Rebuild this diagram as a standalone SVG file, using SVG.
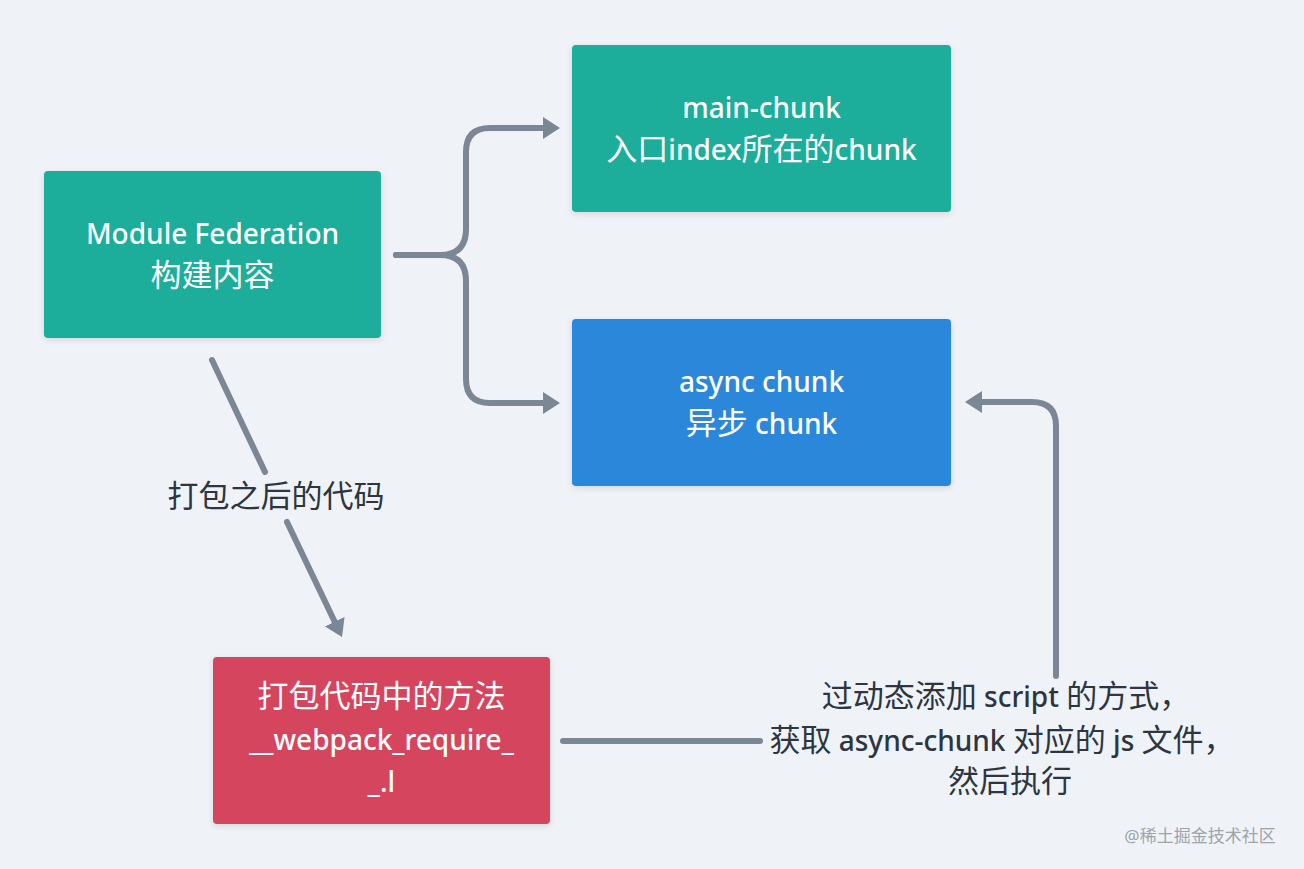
<svg xmlns="http://www.w3.org/2000/svg" width="1304" height="869" viewBox="0 0 1304 869">
<style>
.t{font-family:"Noto Sans","Noto Sans CJK SC",sans-serif;font-size:28px;font-weight:500;fill:#ffffff;text-anchor:middle}
.l{font-family:"Noto Sans","Noto Sans CJK SC",sans-serif;font-size:28px;font-weight:500;fill:#2c3540;text-anchor:middle}
.z{font-family:"Noto Sans CJK SC",sans-serif;font-size:31px;font-weight:400}
.c{fill:none;stroke:#7b8795;stroke-width:6;stroke-linecap:round;stroke-linejoin:round}
</style>
<defs>
<filter id="sh" x="-10%" y="-10%" width="120%" height="130%">
<feDropShadow dx="0" dy="2" stdDeviation="3" flood-color="#000" flood-opacity="0.12"/>
</filter>
<marker id="ah" viewBox="0 0 17 22" refX="7" refY="11" markerWidth="17" markerHeight="22" orient="auto" markerUnits="userSpaceOnUse">
<path d="M0,0 L17,11 L0,22 Z" fill="#7b8795"/>
</marker>
</defs>
<rect width="1304" height="869" fill="#eff3f8"/>
<g id="connectors">
<path class="c" d="M396,255 H440 Q466,255 466,229 V152 Q466,128 490,128 H550" marker-end="url(#ah)"/>
<path class="c" d="M396,255 H440 Q466,255 466,281 V379 Q466,403 490,403 H550" marker-end="url(#ah)"/>
<path class="c" d="M212,360 L265,472"/>
<path class="c" d="M287,522 L337.7,628" marker-end="url(#ah)"/>
<path class="c" d="M563,741 H760"/>
<path class="c" d="M1056,676 V426 Q1056,402 1032,402 H975" marker-end="url(#ah)"/>
</g>
<g id="node-mf">
<rect x="44" y="171" width="337" height="167" rx="4" fill="#1aad9b" filter="url(#sh)"/>
<text class="t" x="212.5" y="244">Module Federation</text>
<text class="t" x="212.5" y="286"><tspan class="z">构建内容</tspan></text>
</g>
<g id="node-main">
<rect x="572" y="45" width="379" height="167" rx="4" fill="#1aad9b" filter="url(#sh)"/>
<text class="t" x="761.5" y="118">main-chunk</text>
<text class="t" x="761.5" y="160"><tspan class="z">入口</tspan>index<tspan class="z">所在的</tspan>chunk</text>
</g>
<g id="node-async">
<rect x="572" y="319" width="379" height="167" rx="4" fill="#2c87da" filter="url(#sh)"/>
<text class="t" x="761.5" y="392">async chunk</text>
<text class="t" x="761.5" y="434"><tspan class="z">异步</tspan> chunk</text>
</g>
<g id="node-require">
<rect x="213" y="657" width="337" height="167" rx="4" fill="#d5455d" filter="url(#sh)"/>
<text class="t" x="381.5" y="707"><tspan class="z">打包代码中的方法</tspan></text>
<text class="t" x="381.5" y="750">__webpack_require_</text>
<text class="t" x="381.5" y="792">_.l</text>
</g>
<g id="labels">
<text class="l" x="276" y="507"><tspan class="z">打包之后的代码</tspan></text>
<text class="l" x="1006" y="707"><tspan class="z">过动态添加</tspan> script <tspan class="z">的方式，</tspan></text>
<text class="l" x="1002" y="751"><tspan class="z">获取</tspan> async-chunk <tspan class="z">对应的</tspan> js <tspan class="z">文件，</tspan></text>
<text class="l" x="1010" y="792"><tspan class="z">然后执行</tspan></text>
</g>
<text x="1200" y="842" font-family="'Noto Sans','Noto Sans CJK SC',sans-serif" font-size="17" fill="#a0a4a9" text-anchor="middle">@稀土掘金技术社区</text>
</svg>
